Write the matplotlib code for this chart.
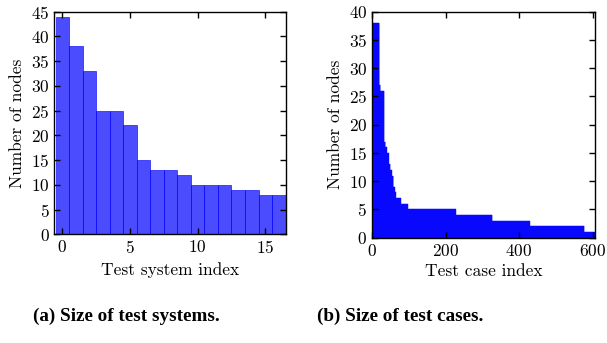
import numpy as np
import matplotlib
matplotlib.use("Agg")
import matplotlib.pyplot as plt

plt.rcParams['font.family'] = 'serif'
plt.rcParams['font.serif'] = ['cmr10']
plt.rcParams['mathtext.fontset'] = 'cm'
plt.rcParams['axes.formatter.use_mathtext'] = True
plt.rcParams['font.size'] = 12.5

# DATA
# (a) nodes per test system
system_sizes = [44, 38, 33, 25, 25, 22, 15, 13, 13, 12, 10, 10, 10, 9, 9, 8, 8]

# (b) nodes per test case, sorted; stored as value / run length
case_values = [38, 27, 26, 17, 16, 15, 13, 12, 11, 9, 8, 7, 6, 5, 4, 3, 2, 1]
case_counts = [20, 3, 10, 3, 4, 5, 4, 4, 5, 4, 2, 14, 19, 131, 98, 103, 148, 29]
case_sizes = np.repeat(case_values, case_counts)

captions = ["(a) Size of test systems.", "(b) Size of test cases."]

fig = plt.figure(figsize=(6.07, 3.43), dpi=100)

# LEFT
ax1 = fig.add_axes([0.0895, 0.317, 0.381, 0.649])
ax1.bar(np.arange(len(system_sizes)), system_sizes, width=1.0,
        color='b', alpha=0.7, edgecolor='b', linewidth=0.6)
ax1.set_xlim(-0.6, 16.5)
ax1.set_ylim(0, 45)
ax1.set_xticks([0, 5, 10, 15])
ax1.set_yticks(range(0, 46, 5))
ax1.set_xlabel("Test system index")
ax1.set_ylabel("Number of nodes")

# RIGHT
ax2 = fig.add_axes([0.6129, 0.307, 0.367, 0.659])
ax2.bar(np.arange(len(case_sizes)), case_sizes, width=1.0, align='edge',
        color='#0808ff', edgecolor='#0808ff', linewidth=0.3)
ax2.set_xlim(0, 606)
ax2.set_ylim(0, 40)
ax2.set_xticks([0, 200, 400, 600])
ax2.set_yticks(range(0, 41, 5))
ax2.set_xlabel("Test case index")
ax2.set_ylabel("Number of nodes")

for ax in (ax1, ax2):
    ax.tick_params(direction='in', top=True, right=True, length=4, width=1)
    for s in ax.spines.values():
        s.set_linewidth(1.0)

fig.text(126 / 607, 1 - 316 / 343, captions[0], ha='center', va='center',
         family='Liberation Serif', weight='bold', fontsize=13.8)
fig.text(400 / 607, 1 - 316 / 343, captions[1], ha='center', va='center',
         family='Liberation Serif', weight='bold', fontsize=13.8)

fig.savefig("out.png", dpi=100)
